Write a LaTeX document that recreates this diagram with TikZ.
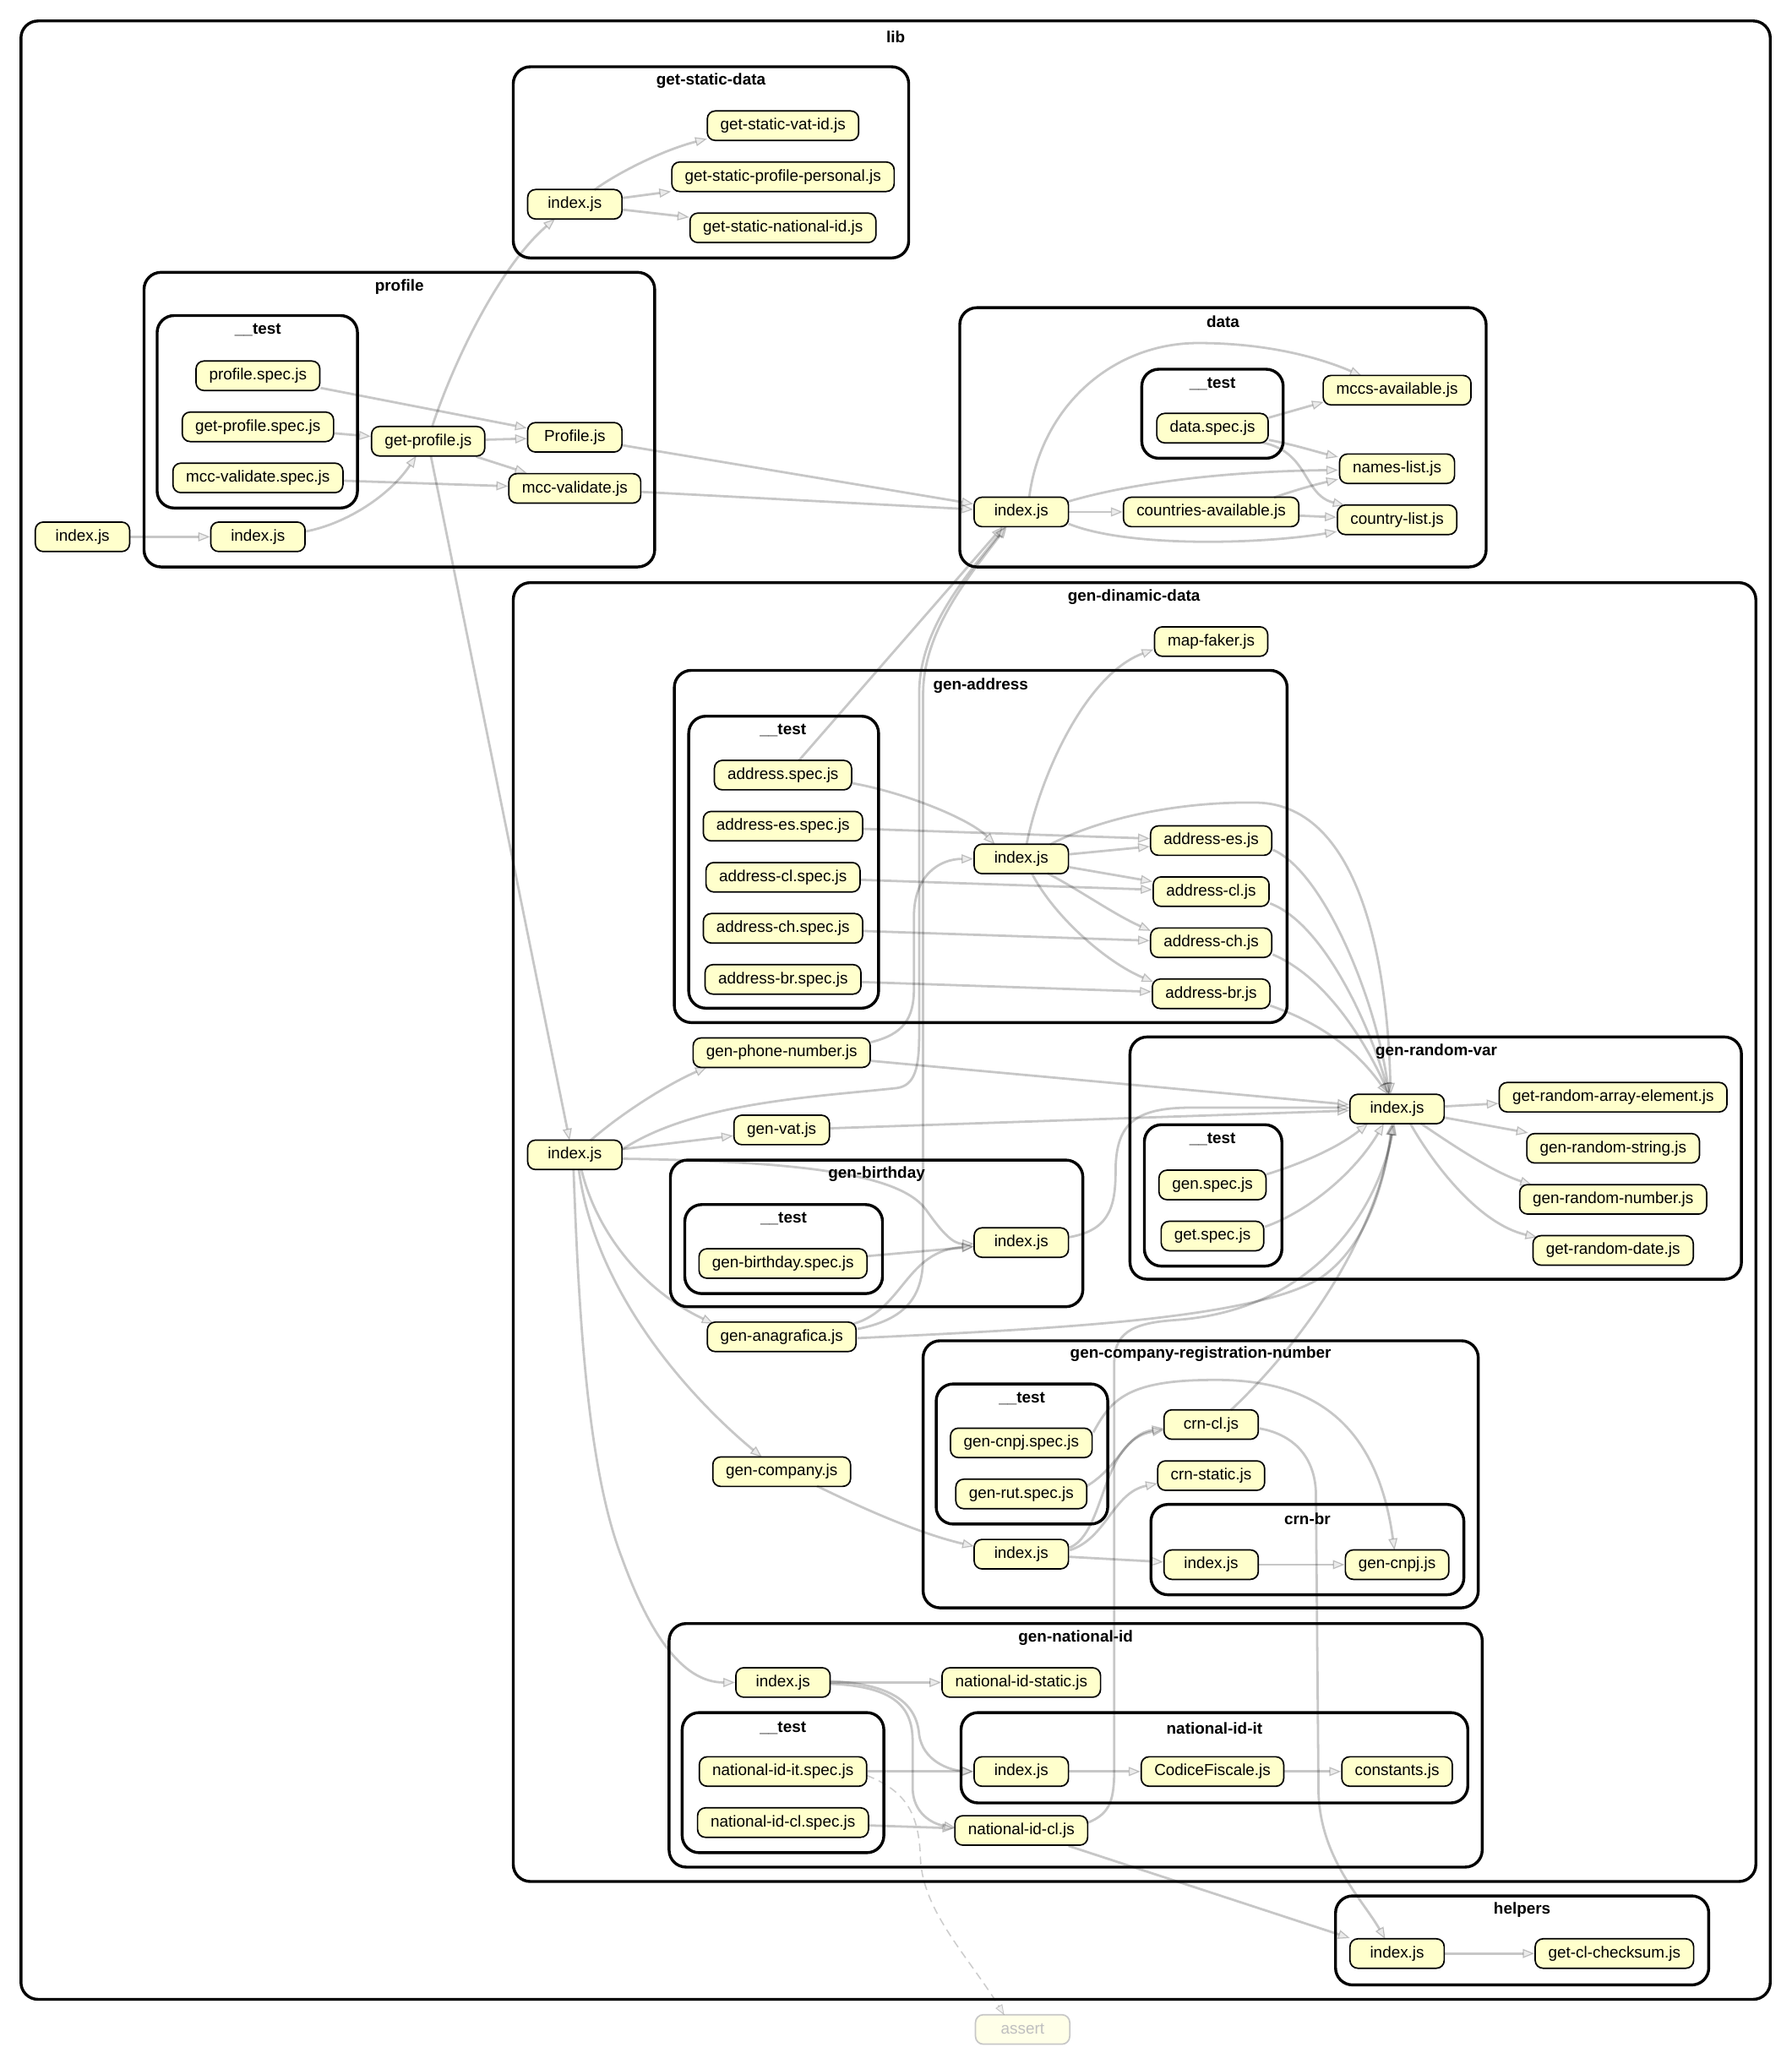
\documentclass[tikz,border=0pt]{standalone}
\usepackage{fontspec}
\setmainfont{Liberation Sans}
\usetikzlibrary{arrows.meta,calc}
\definecolor{fileyellow}{HTML}{FFFFCC}
\begin{document}
\begin{tikzpicture}[x=1pt,y=-1pt,
  fnode/.style={draw=black, line width=1.1pt, fill=fileyellow, rounded corners=6pt, minimum height=22.5pt, minimum width=72pt, inner xsep=10pt, inner ysep=0pt, text height=9pt, text depth=2.6pt, font=\fontsize{12.2pt}{14pt}\selectfont},
  faded/.style={draw=black!22, fill=fileyellow!45, text=black!25},
  cluster/.style={draw=black, line width=2.2pt, rounded corners=13pt},
  ctitle/.style={font=\fontsize{12.2pt}{14pt}\selectfont\bfseries, inner sep=0pt},
  dep/.style={draw=black, opacity=0.22, line width=1.8pt, -{Triangle[length=9pt,width=7pt,line width=0.8pt,fill=black!35]}},
  depdash/.style={draw=black, opacity=0.2, line width=1pt, dash pattern=on 6pt off 4pt, -{Triangle[length=8pt,width=6pt,line width=0.6pt,fill=black!30]}}
]
\useasboundingbox (0,0) rectangle (1368,1568);

% ---------- clusters ----------
\draw[cluster] (16,16) rectangle (1352,1527);
\node[ctitle] (tLib) at (684,28) {lib};
\draw[cluster] (392,51) rectangle (694,197);
\node[ctitle] (tGsd) at (543,62) {get-static-data};
\draw[cluster] (110,208) rectangle (500,433);
\node[ctitle] (tProf) at (305,219) {profile};
\draw[cluster] (120,241) rectangle (273,388);
\node[ctitle] (tProfT) at (197,252) {\_\_test};
\draw[cluster] (733,235) rectangle (1135,433);
\node[ctitle] (tData) at (934,246) {data};
\draw[cluster] (872,282) rectangle (980,350);
\node[ctitle] (tDataT) at (926,293) {\_\_test};
\draw[cluster] (392,445) rectangle (1341,1437);
\node[ctitle] (tGdd) at (866,456) {gen-dinamic-data};
\draw[cluster] (515,512) rectangle (983,781);
\node[ctitle] (tGa) at (749,524) {gen-address};
\draw[cluster] (526,547) rectangle (671,770);
\node[ctitle] (tGaT) at (598,558) {\_\_test};
\draw[cluster] (863,792) rectangle (1330,977);
\node[ctitle] (tGrv) at (1097,803) {gen-random-var};
\draw[cluster] (874,859) rectangle (979,967);
\node[ctitle] (tGrvT) at (926,870) {\_\_test};
\draw[cluster] (512,886) rectangle (827,998);
\node[ctitle] (tGb) at (669.5,897) {gen-birthday};
\draw[cluster] (523,920) rectangle (674,988);
\node[ctitle] (tGbT) at (598.5,931) {\_\_test};
\draw[cluster] (705,1024) rectangle (1129,1228);
\node[ctitle] (tGcrn) at (917,1034) {gen-company-registration-number};
\draw[cluster] (715,1057) rectangle (846,1164);
\node[ctitle] (tGcrnT) at (780.5,1068) {\_\_test};
\draw[cluster] (879,1149) rectangle (1118,1218);
\node[ctitle] (tCrnBr) at (998.5,1160) {crn-br};
\draw[cluster] (511,1240) rectangle (1132,1426);
\node[ctitle] (tGni) at (821.5,1251) {gen-national-id};
\draw[cluster] (521,1308) rectangle (675,1415);
\node[ctitle] (tGniT) at (598,1320) {\_\_test};
\draw[cluster] (734,1308) rectangle (1121,1377);
\node[ctitle] (tNit) at (927.5,1320) {national-id-it};
\draw[cluster] (1020,1448) rectangle (1305,1516);
\node[ctitle] (tHelp) at (1162.5,1459) {helpers};

% ---------- nodes ----------
\node[fnode] (root) at (63,410) {index.js};
\node[fnode] (pIdx) at (197,410) {index.js};
\node[fnode] (pGet) at (327,337) {get-profile.js};
\node[fnode] (pProf) at (439,334) {Profile.js};
\node[fnode] (pMcc) at (439,373) {mcc-validate.js};
\node[fnode] (pProfSpec) at (197,287) {profile.spec.js};
\node[fnode] (pGetSpec) at (197,326) {get-profile.spec.js};
\node[fnode] (pMccSpec) at (197,365) {mcc-validate.spec.js};

\node[fnode] (gIdx) at (439,156) {index.js};
\node[fnode] (gVat) at (598,96) {get-static-vat-id.js};
\node[fnode] (gPers) at (598,135) {get-static-profile-personal.js};
\node[fnode] (gNat) at (598,174) {get-static-national-id.js};

\node[fnode] (dIdx) at (780,391) {index.js};
\node[fnode] (dCtrAv) at (925,391) {countries-available.js};
\node[fnode] (dMccs) at (1067,298) {mccs-available.js};
\node[fnode] (dNames) at (1067,358) {names-list.js};
\node[fnode] (dCtrList) at (1067,397) {country-list.js};
\node[fnode] (dSpec) at (926,327) {data.spec.js};

\node[fnode] (gdIdx) at (439,882) {index.js};
\node[fnode] (mapF) at (925,490) {map-faker.js};
\node[fnode] (phone) at (597,804) {gen-phone-number.js};
\node[fnode] (vat) at (597,863) {gen-vat.js};
\node[fnode] (anag) at (597,1021) {gen-anagrafica.js};
\node[fnode] (comp) at (597,1124) {gen-company.js};

\node[fnode] (aIdx) at (780,656) {index.js};
\node[fnode] (aEs) at (925,642) {address-es.js};
\node[fnode] (aCl) at (925,681) {address-cl.js};
\node[fnode] (aCh) at (925,720) {address-ch.js};
\node[fnode] (aBr) at (925,759) {address-br.js};
\node[fnode] (aSpec) at (598,592) {address.spec.js};
\node[fnode] (aEsSpec) at (598,631) {address-es.spec.js};
\node[fnode] (aClSpec) at (598,670) {address-cl.spec.js};
\node[fnode] (aChSpec) at (598,709) {address-ch.spec.js};
\node[fnode] (aBrSpec) at (598,748) {address-br.spec.js};

\node[fnode] (rIdx) at (1067,847) {index.js};
\node[fnode] (rArr) at (1232,838) {get-random-array-element.js};
\node[fnode] (rStr) at (1232,877) {gen-random-string.js};
\node[fnode] (rNum) at (1232,916) {gen-random-number.js};
\node[fnode] (rDate) at (1232,955) {get-random-date.js};
\node[fnode] (rGenSpec) at (926,905) {gen.spec.js};
\node[fnode] (rGetSpec) at (926,944) {get.spec.js};

\node[fnode] (bIdx) at (780,949) {index.js};
\node[fnode] (bSpec) at (598,965) {gen-birthday.spec.js};

\node[fnode] (cIdx) at (780,1187) {index.js};
\node[fnode] (cCl) at (925,1088) {crn-cl.js};
\node[fnode] (cStatic) at (925,1127) {crn-static.js};
\node[fnode] (cBrIdx) at (925,1195) {index.js};
\node[fnode] (cCnpj) at (1067,1195) {gen-cnpj.js};
\node[fnode] (cCnpjSpec) at (780,1102) {gen-cnpj.spec.js};
\node[fnode] (cRutSpec) at (780,1141) {gen-rut.spec.js};

\node[fnode] (nIdx) at (598,1285) {index.js};
\node[fnode] (nStatic) at (780,1285) {national-id-static.js};
\node[fnode] (nCl) at (780,1398) {national-id-cl.js};
\node[fnode] (nItIdx) at (780,1353) {index.js};
\node[fnode] (nCF) at (926,1353) {CodiceFiscale.js};
\node[fnode] (nConst) at (1067,1353) {constants.js};
\node[fnode] (nItSpec) at (598,1353) {national-id-it.spec.js};
\node[fnode] (nClSpec) at (598,1392) {national-id-cl.spec.js};

\node[fnode] (hIdx) at (1067,1492) {index.js};
\node[fnode] (hCk) at (1233,1492) {get-cl-checksum.js};

\node[fnode, faded] (assert) at (781,1550) {assert};

% ---------- edges: profile ----------
\draw[dep] (root) -- (pIdx);
\draw[dep] ($(pIdx)+(36,-4)$) .. controls (265,400) and (298,378) .. ($(pGet)+(-9,11)$);
\draw[dep] (pGetSpec) -- (pGet);
\draw[dep] (pProfSpec) -- (pProf);
\draw[dep] (pMccSpec) -- (pMcc);
\draw[dep] (pGet) -- (pProf);
\draw[dep] (pGet) -- (pMcc);
\draw[dep] ($(pGet)+(3,-11)$) .. controls (345,280) and (380,205) .. ($(gIdx)+(-15,11)$);
\draw[dep] ($(pGet)+(2,11)$) -- ($(gdIdx)+(-4,-11)$);
\draw[dep] (pProf) -- (dIdx);
\draw[dep] (pMcc) -- (dIdx);

% ---------- edges: get-static-data ----------
\draw[dep] ($(gIdx)+(15,-11)$) .. controls (470,133) and (505,115) .. ($(gVat)+(-58,10)$);
\draw[dep] (gIdx) -- (gPers);
\draw[dep] (gIdx) -- (gNat);

% ---------- edges: data ----------
\draw[dep] ($(dIdx)+(6,-11)$) .. controls (795,310) and (850,262) .. (915,262) .. controls (965,262) and (1005,272) .. ($(dMccs)+(-27,-11)$);
\draw[dep] ($(dIdx)+(36,-8)$) .. controls (860,370) and (930,360) .. ($(dNames)+(-45,1)$);
\draw[dep] ($(dCtrAv)+(48,-11)$) .. controls (990,374) and (1005,370) .. ($(dNames)+(-45,8)$);
\draw[dep] (dCtrAv) -- (dCtrList);
\draw[dep] (dIdx) -- (dCtrAv);
\draw[dep] ($(dIdx)+(36,9)$) .. controls (860,418) and (960,416) .. ($(dCtrList)+(-46,9)$);
\draw[dep] ($(dSpec)+(43,-8)$) -- ($(dMccs)+(-56,9)$);
\draw[dep] ($(dSpec)+(43,9)$) .. controls (990,340) and (1005,345) .. ($(dNames)+(-45,-9)$);
\draw[dep] ($(dSpec)+(38,11)$) .. controls (1000,345) and (995,378) .. ($(dCtrList)+(-40,-11)$);

% ---------- edges: gen-dinamic-data ----------
\draw[dep] ($(gdIdx)+(12,-11)$) .. controls (475,850) and (510,828) .. ($(phone)+(-57,11)$);
\draw[dep] (gdIdx) -- (vat);
\draw[dep] ($(gdIdx)+(36,3)$) .. controls (620,887) and (690,898) .. (708,925) .. controls (720,942) and (728,950) .. ($(bIdx)+(-36,1)$);
\draw[dep] ($(gdIdx)+(5,11)$) .. controls (455,940) and (490,985) .. ($(anag)+(-52,-10)$);
\draw[dep] ($(gdIdx)+(3,11)$) .. controls (455,990) and (530,1070) .. ($(comp)+(-15,-11)$);
\draw[dep] ($(gdIdx)+(-1,11)$) .. controls (442,1000) and (448,1120) .. (475,1190) .. controls (495,1245) and (520,1285) .. (nIdx.west);
\draw[dep] ($(gdIdx)+(36,-4)$) .. controls (530,842) and (620,838) .. (685,831) .. controls (699,829) and (702,815) .. (702,790) -- (702,530) .. controls (702,480) and (738,440) .. ($(dIdx)+(-12,11)$);
\draw[dep] ($(anag)+(58,-6)$) .. controls (690,1008) and (705,992) .. (705,960) -- (705,530) .. controls (705,482) and (740,440) .. ($(dIdx)+(-11,11)$);
\draw[dep] ($(anag)+(55,-10)$) .. controls (690,1000) and (692,955) .. ($(bIdx)+(-36,3)$);
\draw[dep] ($(anag)+(58,1)$) .. controls (800,1015) and (960,1008) .. (1010,975) .. controls (1045,950) and (1058,900) .. ($(rIdx)+(-4,11)$);
\draw[dep] (phone) -- (rIdx);
\draw[dep] (vat) -- (rIdx);
\draw[dep] ($(phone)+(68,-8)$) .. controls (690,790) and (698,778) .. (698,755) -- (698,700) .. controls (698,668) and (718,656) .. (aIdx.west);

% ---------- edges: gen-address ----------
\draw[dep] ($(aSpec)+(52,6)$) .. controls (690,605) and (740,625) .. ($(aIdx)+(-20,-11)$);
\draw[dep] ($(aSpec)+(12,-11)$) -- ($(dIdx)+(-14,11)$);
\draw[dep] (aEsSpec) -- (aEs);
\draw[dep] (aIdx) -- (aEs);
\draw[dep] (aClSpec) -- (aCl);
\draw[dep] (aIdx) -- (aCl);
\draw[dep] (aChSpec) -- (aCh);
\draw[dep] ($(aIdx)+(20,11)$) .. controls (825,680) and (850,698) .. ($(aCh)+(-46,-9)$);
\draw[dep] (aBrSpec) -- (aBr);
\draw[dep] ($(aIdx)+(8,11)$) .. controls (805,700) and (845,735) .. ($(aBr)+(-44,-9)$);
\draw[dep] ($(aIdx)+(4,-11)$) .. controls (795,590) and (830,515) .. ($(mapF)+(-44,6)$);
\draw[dep] ($(aIdx)+(22,-11)$) .. controls (840,625) and (900,612) .. (960,613) .. controls (1040,615) and (1060,740) .. ($(rIdx)+(-5,-11)$);
\draw[dep] ($(aEs)+(47,7)$) .. controls (1010,665) and (1050,760) .. ($(rIdx)+(-6,-11)$);
\draw[dep] ($(aCl)+(45,9)$) .. controls (1010,705) and (1045,780) .. ($(rIdx)+(-6,-11)$);
\draw[dep] ($(aCh)+(47,9)$) .. controls (1010,745) and (1040,790) .. ($(rIdx)+(-6,-11)$);
\draw[dep] ($(aBr)+(45,9)$) .. controls (1005,780) and (1035,800) .. ($(rIdx)+(-7,-11)$);

% ---------- edges: gen-random-var ----------
\draw[dep] (rIdx) -- (rArr);
\draw[dep] (rIdx) -- (rStr);
\draw[dep] ($(rIdx)+(18,11)$) .. controls (1110,875) and (1140,895) .. ($(rNum)+(-62,-11)$);
\draw[dep] ($(rIdx)+(10,11)$) .. controls (1095,890) and (1130,935) .. ($(rDate)+(-58,-10)$);
\draw[dep] ($(rGenSpec)+(41,-8)$) .. controls (990,890) and (1020,878) .. ($(rIdx)+(-22,11)$);
\draw[dep] ($(rGetSpec)+(40,-7)$) .. controls (1000,925) and (1035,895) .. ($(rIdx)+(-10,11)$);

% ---------- edges: gen-birthday ----------
\draw[dep] (bSpec) -- (bIdx);
\draw[dep] ($(bIdx)+(36,-4)$) .. controls (845,940) and (852,925) .. (852,895) .. controls (852,860) and (865,847) .. (905,846) -- ($(rIdx)+(-36,-1)$);

% ---------- edges: gen-company-registration-number ----------
\draw[dep] ($(comp)+(27,11)$) .. controls (665,1155) and (705,1172) .. ($(cIdx)+(-36,-6)$);
\draw[dep] ($(cIdx)+(37,-5)$) .. controls (845,1170) and (840,1100) .. ($(cCl)+(-36,4)$);
\draw[dep] ($(cIdx)+(37,-3)$) .. controls (845,1175) and (850,1140) .. ($(cStatic)+(-41,6)$);
\draw[dep] (cIdx) -- (cBrIdx);
\draw[dep] (cBrIdx) -- (cCnpj);
\draw[dep] ($(cCnpjSpec)+(55,-8)$) .. controls (848,1070) and (860,1055) .. (920,1054) .. controls (990,1052) and (1050,1075) .. ($(cCnpj)+(-2,-11)$);
\draw[dep] ($(cRutSpec)+(50,-6)$) .. controls (855,1120) and (860,1095) .. ($(cCl)+(-36,3)$);
\draw[dep] ($(cCl)+(15,-11)$) .. controls (990,1030) and (1050,950) .. ($(rIdx)+(-3,11)$);
\draw[dep] ($(cCl)+(37,3)$) .. controls (985,1095) and (1004,1110) .. (1005,1140) -- (1007,1370) .. controls (1009,1420) and (1040,1450) .. ($(hIdx)+(-9,-11)$);

% ---------- edges: gen-national-id ----------
\draw[dep] (nIdx) -- (nStatic);
\draw[dep] ($(nIdx)+(36,-1)$) .. controls (680,1286) and (700,1300) .. (702,1325) .. controls (705,1345) and (725,1352) .. (nItIdx.west);
\draw[dep] ($(nIdx)+(36,1)$) .. controls (685,1288) and (697,1305) .. (697,1330) -- (697,1365) .. controls (697,1385) and (712,1393) .. ($(nCl)+(-50,-2)$);
\draw[dep] (nItSpec) -- (nItIdx);
\draw[dep] (nClSpec) -- (nCl);
\draw[dep] (nItIdx) -- (nCF);
\draw[dep] (nCF) -- (nConst);
\draw[dep] (nCl) -- (hIdx);
\draw[dep] ($(nCl)+(51,-6)$) .. controls (848,1385) and (851,1375) .. (851,1350) -- (851,1040) .. controls (851,1015) and (870,1010) .. (900,1008) .. controls (1000,1000) and (1050,930) .. ($(rIdx)+(-2,11)$);
\draw[dep] (hIdx) -- (hCk);
\draw[depdash] ($(nItSpec)+(64,3)$) .. controls (692,1368) and (702,1385) .. (703,1420) .. controls (705,1460) and (740,1495) .. ($(assert)+(-14,-11)$);
\end{tikzpicture}
\end{document}
